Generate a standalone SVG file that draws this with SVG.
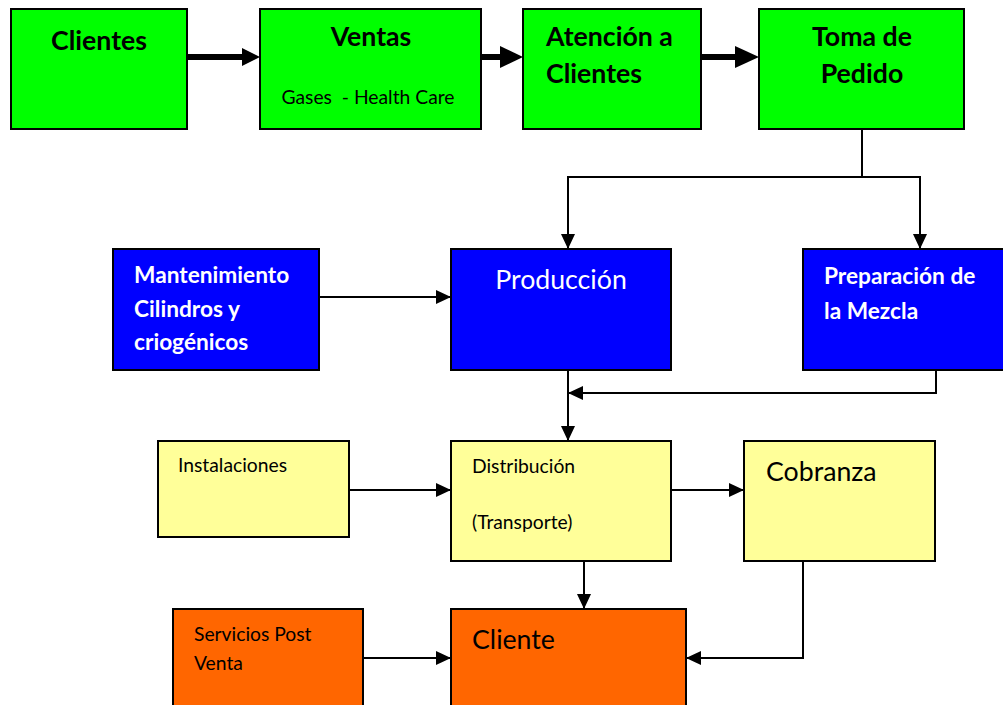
<svg xmlns="http://www.w3.org/2000/svg" width="1003" height="705" viewBox="0 0 1003 705">
  <style>
    .box { stroke: #000; stroke-width: 2; }
    .green { fill: #00ff00; }
    .blue { fill: #0000ff; }
    .yellow { fill: #ffff99; }
    .orange { fill: #ff6600; }
    text { font-family: Lato, "Liberation Sans", sans-serif; }
    .big { font-size: 26.7px; font-weight: bold; fill: #000; }
    .bw { font-size: 22.7px; font-weight: bold; fill: #fff; }
    .rw { font-size: 26.7px; fill: #fff; }
    .sm { font-size: 19.3px; fill: #000; }
    .md { font-size: 26.7px; fill: #000; }
    .thin { fill: none; stroke: #000; stroke-width: 2; }
    .thick { fill: none; stroke: #000; stroke-width: 6; }
    .head { fill: #000; }
  </style>
  <defs>
    <marker id="arr" markerUnits="userSpaceOnUse" markerWidth="15" markerHeight="14" refX="15" refY="7" orient="auto">
      <path d="M0,0 L15,7 L0,14 z" fill="#000"/>
    </marker>
  </defs>

  <rect width="1003" height="705" fill="#fff"/>

  <!-- connectors -->
  <g id="connectors">
    <!-- heavy arrows along the top row -->
    <line class="thick" x1="187" y1="57" x2="244" y2="57"/>
    <polygon class="head" points="242,48 260,57 242,66"/>
    <line class="thick" x1="481" y1="57" x2="502" y2="57"/>
    <polygon class="head" points="500,46 523,57 500,68"/>
    <line class="thick" x1="701" y1="57" x2="737" y2="57"/>
    <polygon class="head" points="735,46 759,57 735,68"/>

    <path class="thin" d="M862,129 V177"/>
    <path class="thin" d="M920,177 H568 V249" marker-end="url(#arr)"/>
    <path class="thin" d="M862,177 H920 V249" marker-end="url(#arr)"/>
    <path class="thin" d="M319,297 H451" marker-end="url(#arr)"/>
    <path class="thin" d="M568,370 V441" marker-end="url(#arr)"/>
    <path class="thin" d="M936,370 V393 H568" marker-end="url(#arr)"/>
    <path class="thin" d="M349,490 H451" marker-end="url(#arr)"/>
    <path class="thin" d="M671,490 H744" marker-end="url(#arr)"/>
    <path class="thin" d="M584,561 V609" marker-end="url(#arr)"/>
    <path class="thin" d="M363,658 H451" marker-end="url(#arr)"/>
    <path class="thin" d="M803,561 V658 H686" marker-end="url(#arr)"/>
  </g>

  <g id="clientes">
    <rect class="box green" x="11" y="9" width="176" height="120"/>
    <text class="big" x="99" y="50" text-anchor="middle">Clientes</text>
  </g>
  <g id="ventas">
    <rect class="box green" x="260" y="9" width="221" height="120"/>
    <text class="big" x="371" y="46" text-anchor="middle">Ventas</text>
    <text class="sm" x="368" y="104" text-anchor="middle" xml:space="preserve">Gases  - Health Care</text>
  </g>
  <g id="atencion">
    <rect class="box green" x="523" y="9" width="178" height="120"/>
    <text class="big" x="546" y="46">Atención a</text>
    <text class="big" x="546" y="83">Clientes</text>
  </g>
  <g id="toma-pedido">
    <rect class="box green" x="759" y="9" width="205" height="120"/>
    <text class="big" x="862" y="46" text-anchor="middle">Toma de</text>
    <text class="big" x="862" y="83" text-anchor="middle">Pedido</text>
  </g>

  <g id="mantenimiento">
    <rect class="box blue" x="113" y="249" width="206" height="121"/>
    <text class="bw" x="134" y="283">Mantenimiento</text>
    <text class="bw" x="134" y="317">Cilindros y</text>
    <text class="bw" x="134" y="350">criogénicos</text>
  </g>
  <g id="produccion">
    <rect class="box blue" x="451" y="249" width="220" height="121"/>
    <text class="rw" x="561" y="289" text-anchor="middle">Producción</text>
  </g>
  <g id="preparacion">
    <rect class="box blue" x="803" y="249" width="202" height="121"/>
    <text class="bw" x="824" y="284">Preparación de</text>
    <text class="bw" x="824" y="319">la Mezcla</text>
  </g>

  <g id="instalaciones">
    <rect class="box yellow" x="158" y="441" width="191" height="96"/>
    <text class="sm" x="178" y="472">Instalaciones</text>
  </g>
  <g id="distribucion">
    <rect class="box yellow" x="451" y="441" width="220" height="120"/>
    <text class="sm" x="472" y="473">Distribución</text>
    <text class="sm" x="472" y="529">(Transporte)</text>
  </g>
  <g id="cobranza">
    <rect class="box yellow" x="744" y="441" width="191" height="120"/>
    <text class="md" x="766" y="481">Cobranza</text>
  </g>

  <g id="servicios-post-venta">
    <rect class="box orange" x="173" y="609" width="190" height="100"/>
    <text class="sm" x="194" y="641">Servicios Post</text>
    <text class="sm" x="194" y="670">Venta</text>
  </g>
  <g id="cliente">
    <rect class="box orange" x="451" y="609" width="235" height="100"/>
    <text class="md" x="472" y="649">Cliente</text>
  </g>
</svg>
